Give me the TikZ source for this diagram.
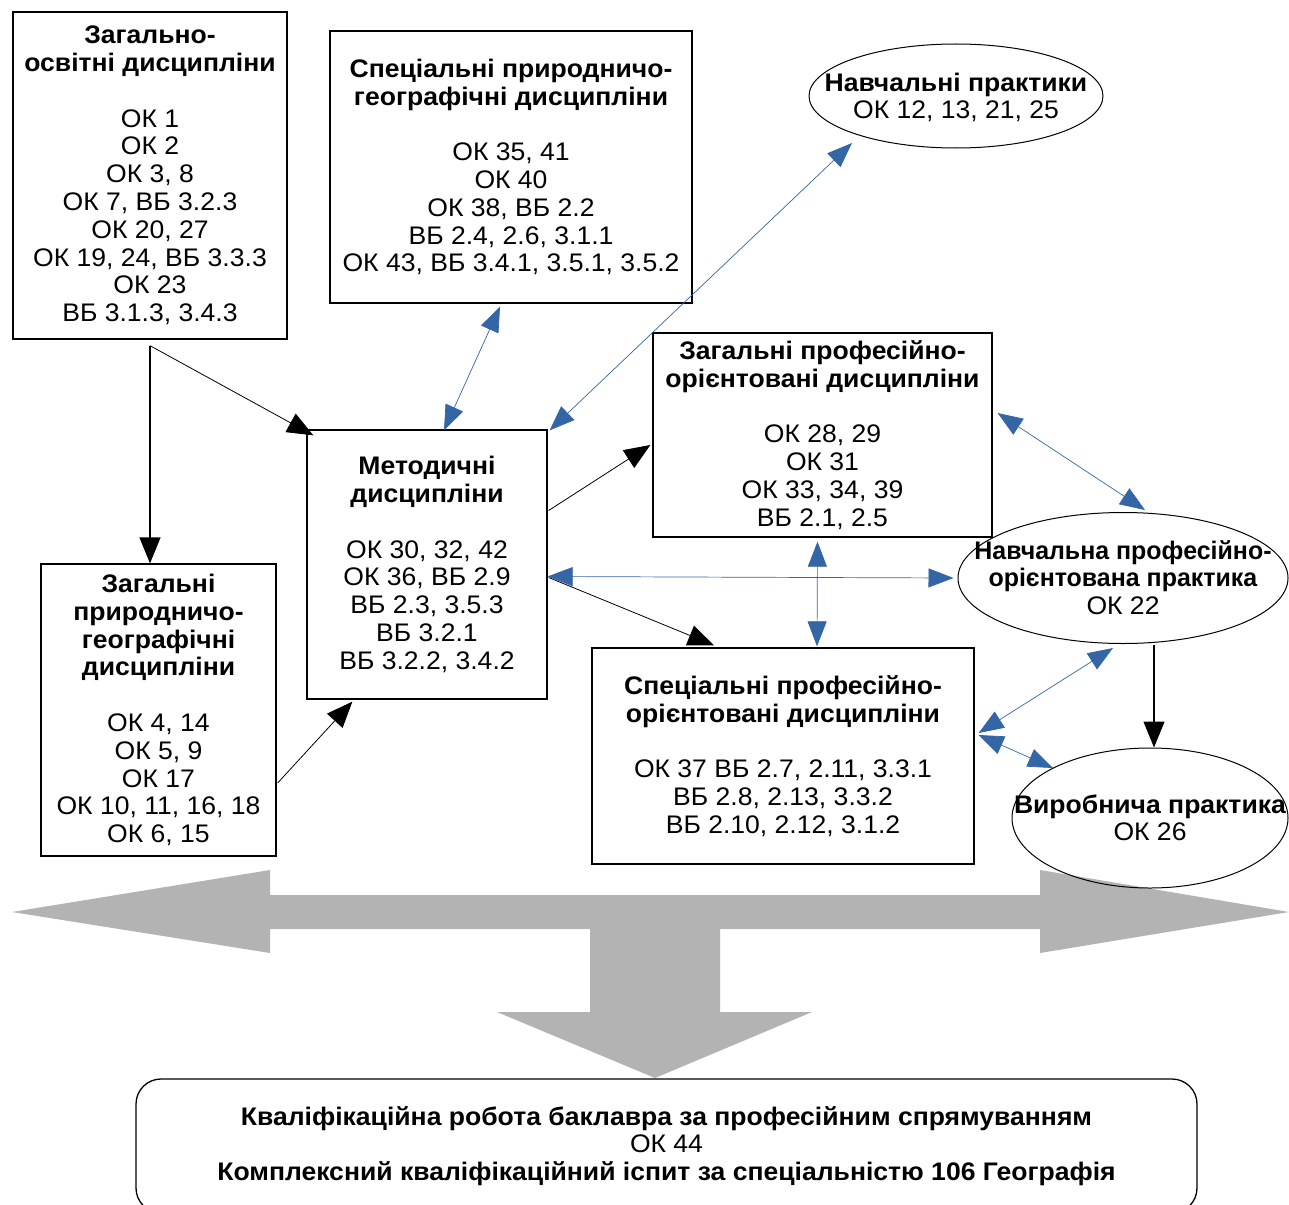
\documentclass[tikz,border=0pt]{standalone}
\usepackage{fontspec}
\setmainfont[FakeStretch=1.045]{Liberation Sans}
\usepackage{graphicx}
\usetikzlibrary{shapes.geometric,arrows.meta,calc}
\definecolor{bluearr}{RGB}{52,101,164}
\definecolor{bigarr}{RGB}{179,179,179}
\newcommand\txtfont{\fontsize{25.4}{27.8}\selectfont}
\newcommand\ovaltext[1]{\smash{\raisebox{-9.6pt}{\makebox[0pt]{\begin{tabular}{@{}c@{}}#1\end{tabular}}}}}
\tikzset{
  box/.style={draw=black, line width=1.3pt, rectangle, inner sep=0pt, align=center, font=\txtfont},
  oval/.style={draw=black, line width=1pt, ellipse, inner sep=0pt, font=\txtfont},
  blk/.style={draw=black, line width=0.8pt, -{Triangle[length=26pt,width=21pt]}},
  blkv/.style={blk, line width=1.3pt},
  blu/.style={draw=bluearr, line width=0.7pt, {Triangle[length=25pt,width=19pt]}-{Triangle[length=25pt,width=19pt]}},
}
\begin{document}
\begin{tikzpicture}[x=1pt,y=-1pt]
\useasboundingbox (0,0) rectangle (1289,1204);
\clip (0,0) rectangle (1289,1204);
% big grey arrow
\fill[bigarr] (12,912) -- (270,870) -- (270,895) -- (1040,895) -- (1040,870) -- (1289,912)
  -- (1040,953) -- (1040,929) -- (720,929) -- (720,1012) -- (812,1012) -- (655,1078)
  -- (497,1012) -- (590,1012) -- (590,929) -- (270,929) -- (270,953) -- cycle;

\node[box, minimum width=274pt, minimum height=327pt] (A) at (150,175.5)
  {\textbf{Загально-}\\\textbf{освітні дисципліни}\\[27.8pt]ОК 1\\ОК 2\\ОК 3, 8\\ОК 7, ВБ 3.2.3\\ОК 20, 27\\ОК 19, 24, ВБ 3.3.3\\ОК 23\\ВБ 3.1.3, 3.4.3};
\node[box, minimum width=362pt, minimum height=272pt] (B) at (511,167)
  {\textbf{Спеціальні природничо-}\\\textbf{географічні дисципліни}\\[27.8pt]ОК 35, 41\\ОК 40\\ОК 38, ВБ 2.2\\ВБ 2.4, 2.6, 3.1.1\\ОК 43, ВБ 3.4.1, 3.5.1, 3.5.2};
\node[oval, minimum width=294pt, minimum height=104pt] (C) at (956,96)
  {\ovaltext{\textbf{Навчальні практики}\\ОК 12, 13, 21, 25}};
\node[box, minimum width=339pt, minimum height=204pt] (D) at (822.5,435)
  {\textbf{Загальні професійно-}\\\textbf{орієнтовані дисципліни}\\[27.8pt]ОК 28, 29\\ОК 31\\ОК 33, 34, 39\\ВБ 2.1, 2.5};
\node[box, minimum width=240pt, minimum height=269pt] (E) at (427,564.5)
  {\textbf{Методичні}\\\textbf{дисципліни}\\[27.8pt]ОК 30, 32, 42\\ОК 36, ВБ 2.9\\ВБ 2.3, 3.5.3\\ВБ 3.2.1\\ВБ 3.2.2, 3.4.2};
\node[box, minimum width=235pt, minimum height=292pt] (F) at (158.5,710)
  {\textbf{Загальні}\\\textbf{природничо-}\\\textbf{географічні}\\\textbf{дисципліни}\\[27.8pt]ОК 4, 14\\ОК 5, 9\\ОК 17\\ОК 10, 11, 16, 18\\ОК 6, 15};
\node[oval, minimum width=330pt, minimum height=131pt] (G) at (1123,578)
  {\ovaltext{\scalebox{0.94}[1]{\textbf{Навчальна професійно-}}\\\scalebox{0.94}[1]{\textbf{орієнтована практика}}\\ОК 22}};
\node[oval, minimum width=276pt, minimum height=140pt] (H) at (1150,818)
  {\ovaltext{\textbf{Виробнича практика}\\ОК 26}};
\node[box, minimum width=382pt, minimum height=216pt] (I) at (783,756)
  {\textbf{Спеціальні професійно-}\\\textbf{орієнтовані дисципліни}\\[27.8pt]ОК 37 ВБ 2.7, 2.11, 3.3.1\\ВБ 2.8, 2.13, 3.3.2\\ВБ 2.10, 2.12, 3.1.2};
\node[box, rounded corners=25pt, minimum width=1061pt, minimum height=134pt] (K) at (666.5,1146)
  {\textbf{Кваліфікаційна робота баклавра за професійним спрямуванням}\\ОК 44\\\textbf{Комплексний кваліфікаційний іспит за спеціальністю 106 Географія}};

% black connectors
\coordinate (a0) at ($(A.south)+(0,6)$);
\draw[blkv] (a0) -- (a0 |- F.north);
\draw[blk] (a0) -- ($(E.north west)+(7,6)$);
\draw[blk] ($(F.east)+(1,73)$) -- ($(E.south west)+(46,2)$);
\draw[blk] ($(E.east)+(1,-54)$) -- ($(D.west)+(-2,10)$);
\draw[blk] ($(E.east)+(1,13)$) -- ($(I.north)+(-69,-2)$);
\draw[blkv] ($(G.south)+(31,1)$) -- ($(H.north)+(4,0)$);

% blue connectors
\draw[blu] ($(B.south)+(-11,3)$) -- ($(E.north)+(17,1)$);
\draw[blu] ($(C.center)+(-104,47)$) -- ($(E.north east)+(2,1)$);
\draw[blu] ($(D.east)+(5,-22)$) -- ($(G.north)+(22,-2)$);
\draw[blu] ($(E.east)+(0,12)$) -- ($(G.west)+(-4,0)$);
\draw[blu] ($(D.south)+(-5,4)$) -- ($(I.north)+(34,-1)$);
\draw[blu] ($(I.east)+(4,-23)$) -- ($(G.south)+(-10,4)$);
\draw[blu] ($(I.east)+(4,-21)$) -- ($(H.center)+(-97,-50)$);
\end{tikzpicture}
\end{document}
